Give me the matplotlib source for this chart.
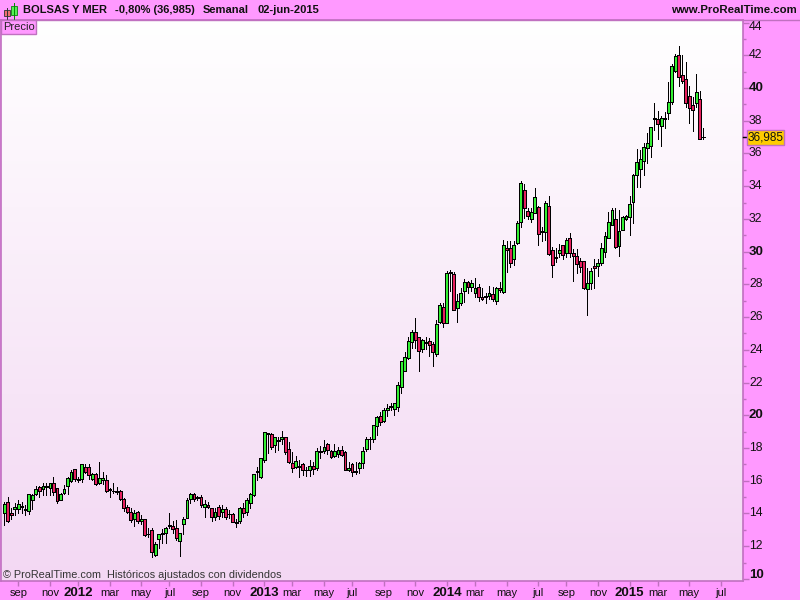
import numpy as np
import matplotlib
matplotlib.use("Agg")
import matplotlib.pyplot as plt
from matplotlib.patches import Rectangle
from matplotlib.colors import LinearSegmentedColormap

plt.rcParams['font.family'] = ['Liberation Sans', 'DejaVu Sans']

# Weekly candles: week 0 = 8 Aug 2011
opens = [14.05,14.68,14.01,14.25,14.29,14.43,14.25,14.17,14.82,15.19,15.60,15.51,15.60,15.58,15.84,15.53,14.82,15.27,15.70,16.00,
16.70,16.08,16.12,16.82,16.82,16.10,16.41,15.88,16.04,16.04,15.47,15.39,15.37,15.37,14.86,14.37,14.11,13.68,14.07,13.52,
13.66,12.76,12.99,11.44,12.42,12.78,12.78,13.27,13.23,13.09,12.33,13.33,13.74,14.86,15.19,14.98,15.02,14.41,14.54,14.31,
13.80,14.41,14.11,14.27,13.99,13.95,13.50,13.52,14.31,14.11,14.62,15.15,16.57,16.25,17.27,18.89,18.83,18.20,18.49,18.53,
18.65,17.92,17.10,16.86,16.88,17.04,16.67,16.63,16.92,16.80,17.79,17.79,18.22,17.83,17.51,17.65,17.85,17.77,16.67,17.04,
16.57,16.76,17.06,17.96,18.57,18.57,19.32,19.93,19.67,20.34,20.54,20.36,20.52,21.75,22.72,23.52,24.50,25.07,24.76,24.07,
24.46,24.54,24.34,23.77,25.70,26.62,25.66,28.74,28.63,26.58,26.88,27.62,28.13,27.86,27.49,27.82,27.21,27.27,27.27,27.39,
27.00,27.76,27.56,30.20,30.20,29.53,30.55,31.79,33.75,32.46,32.02,32.34,32.71,31.24,31.18,32.79,30.08,29.65,29.90,30.39,
29.94,30.81,29.94,29.71,29.41,29.41,27.70,28.06,29.10,29.12,29.29,30.00,30.86,31.65,31.98,30.37,31.31,31.98,32.10,33.02,
34.67,35.03,35.56,36.32,36.46,38.15,38.09,37.68,38.15,38.45,39.17,41.06,42.02,40.78,40.53,39.51,38.96,39.10,39.31,36.99]
highs = [14.72,14.98,14.31,14.66,14.82,14.72,14.52,15.19,15.19,15.68,15.68,15.88,15.84,15.84,16.21,15.53,15.27,15.74,16.25,16.65,
16.70,16.25,17.00,17.02,17.02,16.49,16.45,17.14,16.55,16.35,15.53,15.84,15.64,15.43,14.92,14.52,14.31,14.21,14.17,13.90,
13.66,13.09,13.09,12.28,12.72,13.03,13.15,14.05,13.54,13.60,12.78,13.80,14.92,15.23,15.23,15.07,15.13,14.82,14.72,14.31,
14.31,14.52,14.52,14.37,14.21,14.01,13.64,14.41,14.62,14.92,15.27,16.41,16.86,17.37,19.00,18.93,18.89,18.69,18.69,19.04,
18.69,18.36,17.75,17.51,17.26,17.06,16.82,17.26,17.16,17.98,18.12,18.49,18.32,17.88,18.24,18.08,18.12,17.81,17.16,17.10,
17.16,17.16,18.08,18.65,18.65,19.40,19.95,20.20,20.42,20.69,20.73,20.73,22.03,23.29,23.87,24.78,25.21,25.95,24.80,24.64,
24.76,24.70,24.48,25.80,26.84,26.84,28.84,28.86,28.76,27.41,27.76,28.31,28.23,28.27,28.37,28.02,27.76,27.49,27.90,27.86,
27.82,28.17,30.71,30.67,30.67,30.67,31.89,34.32,34.13,32.65,32.65,33.87,32.79,31.53,33.12,33.40,30.26,30.20,30.47,30.39,
30.81,31.12,30.14,30.14,29.59,29.45,28.98,28.98,29.53,29.53,30.55,31.22,32.45,32.65,32.65,32.55,32.18,32.24,33.40,34.75,
36.28,36.21,36.62,37.23,37.64,39.07,38.60,38.29,38.56,40.35,41.45,42.08,42.57,42.02,41.57,40.12,39.43,40.86,39.82,37.53]
lows = [13.29,13.50,13.64,13.90,14.05,14.05,13.90,13.97,14.25,15.13,14.98,15.13,15.13,15.13,15.13,14.62,14.82,15.19,15.19,15.94,
16.00,15.92,15.94,16.45,16.08,16.04,15.74,15.80,15.80,15.33,15.02,15.23,15.19,14.82,14.17,14.01,13.46,13.23,13.44,13.35,
12.64,12.58,11.36,11.40,11.87,12.21,12.17,13.09,12.78,12.38,11.42,12.74,13.70,14.62,14.78,14.82,14.37,13.80,14.31,13.54,
13.60,13.64,13.80,13.64,13.70,13.50,13.19,13.40,13.80,13.90,14.31,15.07,16.04,16.14,17.16,17.71,17.96,17.77,17.88,18.24,
17.63,17.06,16.55,16.76,16.25,16.35,16.29,16.29,16.41,16.65,17.41,17.67,17.63,17.39,17.43,17.43,17.51,16.67,16.61,16.29,
16.41,16.45,16.76,17.81,17.96,18.38,18.79,19.40,19.59,19.95,20.32,20.01,20.28,21.38,22.72,23.42,24.11,24.11,22.72,23.87,
24.03,23.62,23.01,23.62,25.66,25.42,25.66,27.60,26.43,25.70,26.74,26.92,27.45,27.62,27.21,27.00,27.05,26.88,27.09,27.00,
26.80,27.51,27.49,28.78,29.08,29.18,30.47,31.53,32.04,31.98,31.83,32.34,30.43,30.67,30.71,29.82,28.47,29.39,29.65,29.53,
29.65,29.65,28.23,28.68,28.78,27.72,26.13,27.70,27.80,28.51,29.19,29.70,30.86,31.65,30.21,29.76,31.31,31.94,31.02,31.77,
33.97,33.93,34.69,35.40,35.77,37.44,36.87,36.48,37.54,38.09,39.02,41.00,40.12,40.33,38.82,37.88,37.37,38.82,36.91,36.91]
closes = [14.58,13.56,13.92,14.41,14.58,14.39,14.21,15.19,15.13,15.47,15.39,15.68,15.68,15.84,15.33,14.76,15.19,15.49,16.14,16.53,
16.08,16.04,17.00,16.51,16.35,16.39,15.82,16.14,16.14,15.37,15.43,15.35,15.31,14.90,14.35,14.11,13.62,14.01,13.54,13.66,
12.68,12.72,11.62,12.13,12.72,12.72,13.09,13.23,13.07,12.48,12.78,13.64,14.82,15.19,14.86,14.92,14.52,14.56,14.41,13.76,
14.11,13.86,14.27,13.80,13.95,13.50,13.40,14.31,14.01,14.82,15.19,16.41,16.53,17.37,19.00,18.83,18.08,18.65,18.45,18.65,
17.73,17.16,16.76,17.22,16.82,16.65,16.63,16.88,16.69,17.81,17.73,18.04,17.85,17.47,17.79,17.85,17.59,16.67,16.80,16.51,
16.51,17.10,17.79,18.53,18.55,19.38,19.91,19.61,20.32,20.46,20.48,20.73,21.83,23.29,23.54,24.54,25.09,24.58,23.95,24.60,
24.40,24.32,23.87,25.56,26.74,25.66,28.70,28.68,26.45,26.96,27.45,28.13,27.86,28.06,27.76,27.25,27.13,27.21,27.45,27.13,
27.76,27.68,30.39,30.12,29.33,30.39,31.73,34.18,32.65,32.20,32.40,33.36,31.10,31.18,32.95,29.84,29.20,29.59,30.08,29.82,
30.69,29.94,29.76,29.27,29.04,27.80,28.06,28.80,29.02,29.29,30.20,30.96,31.79,32.55,30.31,31.24,32.14,32.16,32.89,34.67,
35.46,35.64,36.38,36.62,37.64,38.09,37.82,38.15,38.09,39.12,41.35,41.96,40.69,40.45,39.10,38.80,38.66,39.76,36.91,36.985]

month_pos = [4,13,21,30,39,47,56,65,74,82,91,99,108,117,126,134,143,152,160,169,178,186,195,204]
month_labels = ['sep','nov','2012','mar','may','jul','sep','nov','2013','mar','may','jul',
                'sep','nov','2014','mar','may','jul','sep','nov','2015','mar','may','jul']
price_ticks = [10,12,14,16,18,20,22,24,26,28,30,32,34,36,38,40,42,44]
last_price = 36.985

PINK = '#FF99FF'
EDGE = '#C070C0'
GREEN = '#33F033'
RED = '#E6205E'
PX_W, PX_H = 800, 600

def hbox(x0, y0, x1, y1):
    return [x0/PX_W, 1-y1/PX_H, (x1-x0)/PX_W, (y1-y0)/PX_H]

fig = plt.figure(figsize=(8, 6), dpi=100, facecolor=PINK)
ax = fig.add_axes(hbox(1, 20, 743, 581))

idx = np.arange(len(opens))
o, h, l, c = map(np.array, (opens, highs, lows, closes))
ax.set_xlim(-0.94, 210.3)
ax.set_ylim(9.87, 44.157)

# background gradient
cmap = LinearSegmentedColormap.from_list('bg', ['#FFFFFF', '#F3D8F3'])
ax.imshow(np.linspace(0, 1, 256).reshape(-1, 1), extent=(-0.94, 210.3, 9.87, 44.157),
          aspect='auto', cmap=cmap, origin='upper', zorder=0)

# candles
ax.vlines(idx, l, h, color='black', lw=0.7, zorder=2, antialiased=False)
top = np.maximum(o, c); bot = np.minimum(o, c)
cols = [GREEN if cc >= oo else RED for oo, cc in zip(o, c)]
ax.bar(idx, top-bot, bottom=bot, width=0.82, color=cols, edgecolor='black',
       linewidth=0.7, zorder=3, antialiased=False)

for s in ax.spines.values():
    s.set_color(EDGE); s.set_linewidth(1.2)

# axes ticks
ax.yaxis.tick_right()
ax.set_yticks(price_ticks)
ax.set_yticks(np.arange(11, 44, 2), minor=True)
ax.tick_params(axis='y', which='major', length=4, width=1, color=EDGE, labelright=False)
ax.tick_params(axis='y', which='minor', length=2.5, width=1, color=EDGE)
ax.set_xticks(month_pos)
ax.set_xticklabels([])
ax.tick_params(axis='x', length=3.5, width=1, color=EDGE)

for v in price_ticks:
    dy = 0.0
    if v == 44: dy = -3.0
    if v == 10: dy = 2.6
    bold = v in (10, 20, 30, 40)
    ax.annotate(str(v), xy=(1, v), xycoords=('axes fraction', 'data'),
                xytext=(4.3, dy), textcoords='offset points', va='center', ha='left',
                fontsize=9.5 if bold else 8.8, fontweight='bold' if bold else 'normal',
                color='#111111')

for p, lab in zip(month_pos, month_labels):
    bold = lab.isdigit()
    ax.annotate(lab, xy=(p, 0), xycoords=('data', 'axes fraction'),
                xytext=(0, -8.5), textcoords='offset points', ha='center', va='center',
                fontsize=9.5 if bold else 8, fontweight='bold' if bold else 'normal',
                color='#111111', annotation_clip=False)

# last price marker
fig.add_artist(Rectangle((747/PX_W, 1-145/PX_H), 37/PX_W, 15/PX_H, transform=fig.transFigure,
                         facecolor='#FFCC00', edgecolor=EDGE, lw=1))
fig.text(765.5/PX_W, 1-137.5/PX_H, '36,985', ha='center', va='center', fontsize=8.5, color='#111111')
ax.plot([1, 1.005], [last_price, last_price], transform=ax.get_yaxis_transform(),
        color='black', lw=1, clip_on=False, zorder=5)

# header
fig.add_artist(plt.Line2D([0, 1], [1-20/PX_H, 1-20/PX_H], color=EDGE, lw=1))
fig.add_artist(Rectangle((0.5/PX_W, 1-34/PX_H), 35.5/PX_W, 14/PX_H, transform=fig.transFigure,
                         facecolor=PINK, edgecolor=EDGE, lw=1, zorder=6))
fig.text(3/PX_W, 1-27/PX_H, 'Precio', ha='left', va='center', fontsize=8.0, color='#222222', zorder=7)

# logo candles
fig.add_artist(plt.Line2D([6.5/PX_W, 6.5/PX_W], [1-8/PX_H, 1-19/PX_H], color='#333333', lw=0.7))
fig.add_artist(Rectangle((3.5/PX_W, 1-16/PX_H), 6/PX_W, 6/PX_H, transform=fig.transFigure,
                         facecolor='#F07070', edgecolor='#444444', lw=0.7))
fig.add_artist(plt.Line2D([14/PX_W, 14/PX_W], [1-3/PX_H, 1-19/PX_H], color='#008800', lw=0.7))
fig.add_artist(Rectangle((11/PX_W, 1-15/PX_H), 6/PX_W, 9/PX_H, transform=fig.transFigure,
                         facecolor='#55F055', edgecolor='#228822', lw=0.7))

for x, t in [(23, 'BOLSAS Y MER'), (115, '-0,80% (36,985)'), (203, 'Semanal'), (257, '02-jun-2015')]:
    fig.text(x/PX_W, 1-10/PX_H, t, ha='left', va='center', fontsize=8.0, fontweight='bold', color='#111111')
fig.text(797/PX_W, 1-10/PX_H, 'www.ProRealTime.com', ha='right', va='center', fontsize=8.2,
         fontweight='bold', color='#111111')

fig.text(3/PX_W, 1-575/PX_H, '© ProRealTime.com  Históricos ajustados con dividendos',
         ha='left', va='center', fontsize=7.85, color='#333333', zorder=7)

fig.savefig('out.png', dpi=100, facecolor=PINK)
